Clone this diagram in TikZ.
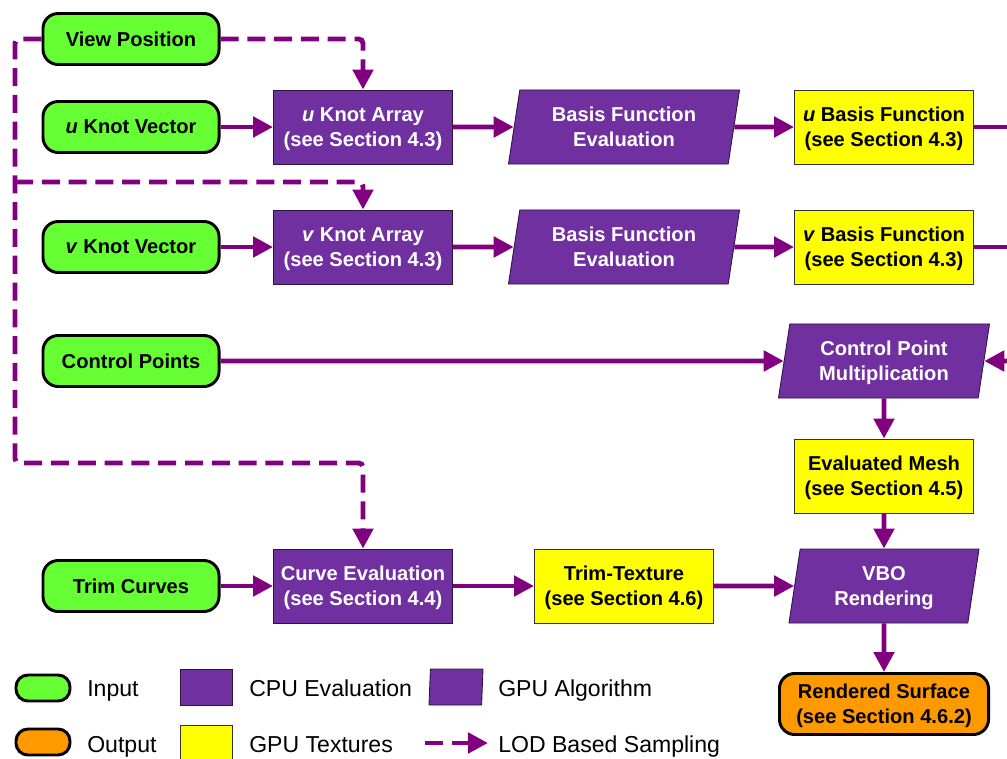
\documentclass[tikz,border=0pt]{standalone}
\usepackage{fontspec}
\setmainfont{Liberation Sans}
\usepackage{xcolor}
\usetikzlibrary{shapes.geometric, arrows.meta}
\definecolor{ingreen}{HTML}{66FF33}
\definecolor{cpupurple}{HTML}{7030A0}
\definecolor{texyellow}{HTML}{FFFF00}
\definecolor{outorange}{HTML}{FF9900}
\definecolor{arrowpurple}{HTML}{800080}
\tikzset{
  box/.style={font=\fontsize{14.3}{18}\selectfont\bfseries, align=center, inner sep=2pt,
              text depth=0pt},
  inp/.style={box, draw=black, line width=2.1pt, rounded corners=0.38cm, fill=ingreen,
              minimum width=4.4cm, minimum height=1.275cm},
  cpu/.style={box, draw=black!60!cpupurple, line width=0.6pt, fill=cpupurple, text=white,
              minimum width=4.475cm, minimum height=1.85cm},
  gpu/.style={box, trapezium, trapezium left angle=76, trapezium right angle=104,
              trapezium stretches body, draw=black!60!cpupurple, line width=0.6pt,
              fill=cpupurple, text=white, minimum width=5.775cm, minimum height=1.85cm},
  tex/.style={box, draw=black!80, line width=0.6pt, fill=texyellow,
              minimum width=4.475cm, minimum height=1.85cm},
  outp/.style={box, draw=black, line width=2.1pt, rounded corners=0.38cm, fill=outorange,
               minimum width=5.225cm, minimum height=1.525cm},
  flow/.style={-{Triangle[length=0.5cm, width=0.5cm]}, line width=3.5pt, arrowpurple},
  lod/.style={flow, dash pattern=on 0.45cm off 0.22cm, rounded corners=3pt},
  lgd/.style={font=\fontsize{16.4}{19}\selectfont, anchor=base west, inner sep=0pt}
}
\begin{document}
\begin{tikzpicture}[x=0.025cm, y=-0.025cm]
  \useasboundingbox (0,0) rectangle (1007,758);
  \node[inp] (view) at (131,39) {View Position};
  \node[inp] (uvec) at (131,127) {\textit{u} Knot Vector};
  \node[inp] (vvec) at (131,247) {\textit{v} Knot Vector};
  \node[inp] (ctrl) at (131,361) {Control Points};
  \node[inp] (trim) at (131,586) {Trim Curves};
  \node[cpu] (uarr) at (363,127) {\textit{u} Knot Array\\(see Section 4.3)};
  \node[cpu] (varr) at (363,247) {\textit{v} Knot Array\\(see Section 4.3)};
  \node[cpu] (curve) at (363,586) {Curve Evaluation\\(see Section 4.4)};
  \node[gpu] (ueval) at (624,127) {Basis Function\\Evaluation};
  \node[gpu] (veval) at (624,247) {Basis Function\\Evaluation};
  \node[tex] (ubasis) at (884,127) {\textit{u} Basis Function\\(see Section 4.3)};
  \node[tex] (vbasis) at (884,247) {\textit{v} Basis Function\\(see Section 4.3)};
  \node[gpu, minimum width=5.275cm] (mult) at (884,361) {Control Point\\Multiplication};
  \node[tex] (mesh) at (884,476) {Evaluated Mesh\\(see Section 4.5)};
  \node[tex] (ttex) at (624,586) {Trim-Texture\\(see Section 4.6)};
  \node[gpu, minimum width=4.75cm] (vbo) at (884,586) {VBO\\Rendering};
  \node[outp] (surf) at (884,704) {Rendered Surface\\(see Section 4.6.2)};
  \coordinate (uout) at (1012,127);
  \coordinate (vout) at (1012,247);
  \coordinate (cin) at (1012,361);
  \coordinate (lodmid) at (15,182);
  \coordinate (lodbot) at (15,463);
  \draw[flow] (uvec) -- (uarr);
  \draw[flow] (uarr) -- (ueval);
  \draw[flow] (ueval) -- (ubasis);
  \draw[flow, -] (ubasis) -- (uout);
  \draw[flow] (vvec) -- (varr);
  \draw[flow] (varr) -- (veval);
  \draw[flow] (veval) -- (vbasis);
  \draw[flow, -] (vbasis) -- (vout);
  \draw[flow] (ctrl) -- (mult);
  \draw[flow] (cin) -- (mult);
  \draw[flow] (mult) -- (mesh);
  \draw[flow] (mesh) -- (vbo);
  \draw[flow] (trim) -- (curve);
  \draw[flow] (curve) -- (ttex);
  \draw[flow] (ttex) -- (vbo);
  \draw[flow] (vbo) -- (surf);
  \draw[lod] (view.east) -| (uarr.north);
  \draw[lod] (view.west) -| (lodbot) -| (curve.north);
  \draw[lod] (lodmid) -| (varr.north);
  \node[inp, minimum width=1.35cm, minimum height=0.65cm, rounded corners=0.3cm] (kin) at (43,688) {};
  \node[lgd] (kint) at (87,696) {Input};
  \node[cpu, minimum width=1.3cm, minimum height=0.9cm] (kcpu) at (206,687) {};
  \node[lgd] (kcput) at (249,696) {CPU Evaluation};
  \node[gpu, minimum width=1.35cm, minimum height=0.9cm] (kgpu) at (456,687) {};
  \node[lgd] (kgput) at (498,696) {GPU Algorithm};
  \node[outp, minimum width=1.35cm, minimum height=0.65cm, rounded corners=0.3cm] (kout) at (43,742) {};
  \node[lgd] (koutt) at (87,752) {Output};
  \node[tex, minimum width=1.3cm, minimum height=0.9cm] (ktex) at (206,743) {};
  \node[lgd] (ktext) at (249,752) {GPU Textures};
  \coordinate (klodA) at (425,743);
  \coordinate (klodB) at (488,743);
  \draw[lod] (klodA) -- (klodB);
  \node[lgd] (klodt) at (498,752) {LOD Based Sampling};
\end{tikzpicture}
\end{document}
